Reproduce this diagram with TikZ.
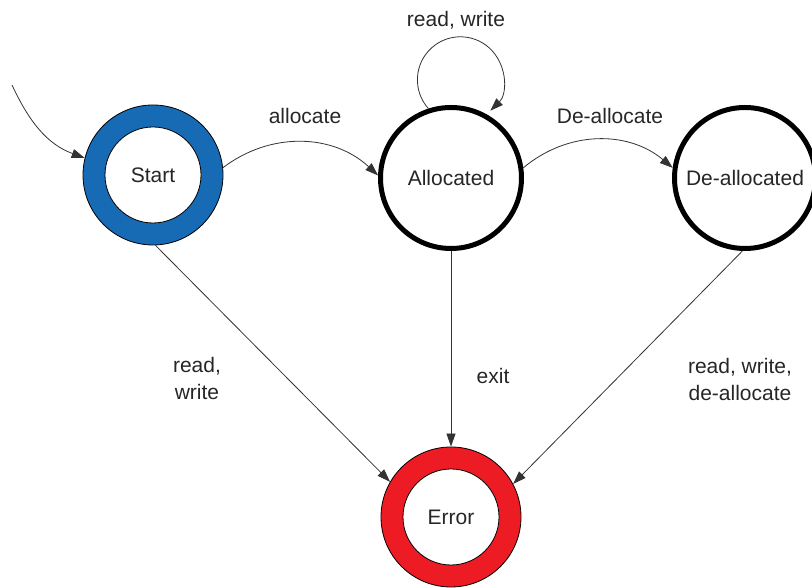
\documentclass[tikz,border=0pt]{standalone}
\usepackage{fontspec}
\setmainfont{Liberation Sans}
\usetikzlibrary{arrows.meta}
\definecolor{startblue}{RGB}{22,107,180}
\definecolor{errorred}{RGB}{237,28,36}

\begin{document}
\begin{tikzpicture}[x=1pt,y=1pt,
    >={Triangle[length=13pt,width=9pt]},
    font=\fontsize{21}{27}\selectfont,
    text=black!85,
    ring/.style={circle,draw=black,line width=0.8pt,fill=#1,minimum size=140pt,inner sep=0pt},
    hole/.style={circle,draw=black,line width=0.8pt,fill=white,minimum size=96pt,inner sep=0pt},
    state/.style={circle,draw=black,line width=5pt,fill=white,minimum size=141pt,inner sep=0pt},
    trans/.style={->,line width=0.8pt,draw=black!80}]
    \useasboundingbox (0,0) rectangle (812,588);
    % states
    \node[ring=startblue] (start) at (153,413) {};
    \node[hole] (start-in) at (start) {Start};
    \node[state] (alloc) at (451,410) {Allocated};
    \node[state] (dealloc) at (745,410) {De-allocated};
    \node[ring=errorred] (error) at (451,71) {};
    \node[hole] (error-in) at (error) {Error};
    % transitions
    \coordinate (init) at (12,503);
    \draw[trans] (init) to[out=-65,in=160] (start.166);
    \draw[trans] (start.6) to[bend left=40] (alloc.178);
    \draw[trans] (alloc.8) to[bend left=40] (dealloc.172);
    \draw[trans] (alloc.108) arc[start angle=222,end angle=-46,radius=43];
    \draw[trans] (start.-88) -- (error.150);
    \draw[trans] (alloc) -- (error);
    \draw[trans] (dealloc.-92) -- (error.28);
    % labels
    \node (l-alloc) at (305,472) {allocate};
    \node (l-dealloc) at (610,472) {De-allocate};
    \node (l-loop) at (456,568) {read, write};
    \node[align=center] (l-start) at (197,209) {read,\\write};
    \node (l-exit) at (493,212) {exit};
    \node[align=center] (l-dealloc2) at (740,208) {read, write,\\de-allocate};
\end{tikzpicture}
\end{document}
